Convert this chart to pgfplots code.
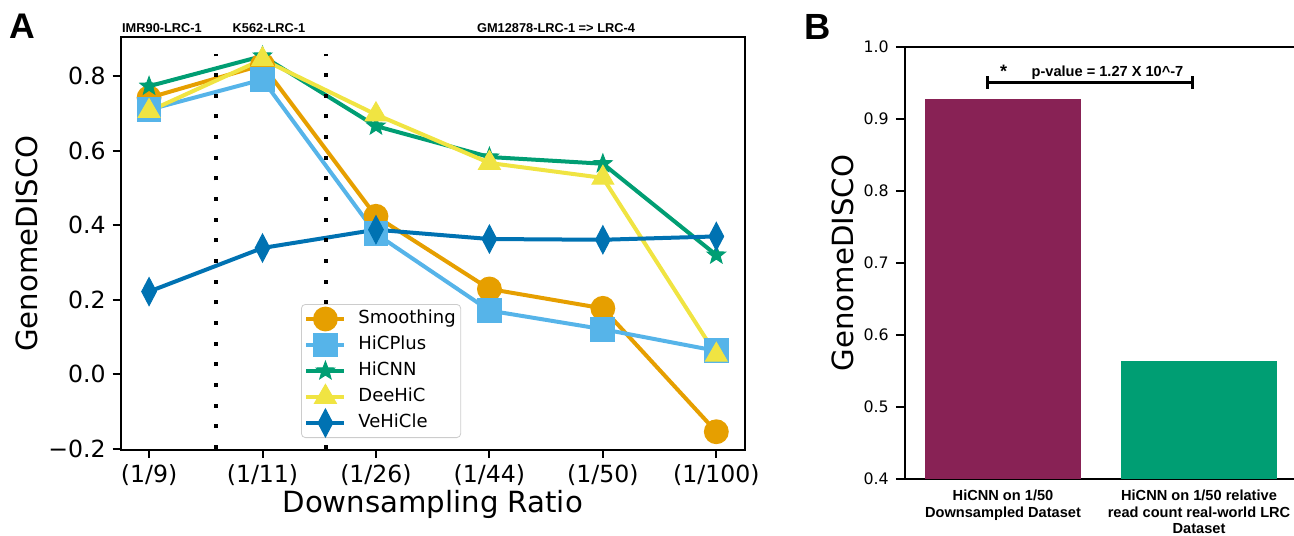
\documentclass[border=0pt]{standalone}
\usepackage{fontspec}
\setmainfont{DejaVu Sans}
\newfontfamily\arial{Liberation Sans}
\usepackage{pgfplots}
\usepackage{pgfplotstable}
\pgfplotsset{compat=1.18}

\definecolor{cOrange}{HTML}{E69F00}
\definecolor{cSky}{HTML}{56B4E9}
\definecolor{cGreen}{HTML}{009E73}
\definecolor{cYellow}{HTML}{F0E442}
\definecolor{cBlue}{HTML}{0072B2}
\definecolor{cWine}{HTML}{882255}

% filled five-pointed star, like matplotlib's '*'
\pgfdeclareplotmark{fstar}{%
  \pgfpathmoveto{\pgfqpointpolar{90}{\pgfplotmarksize}}%
  \pgfpathlineto{\pgfqpointpolar{126}{0.42\pgfplotmarksize}}%
  \pgfpathlineto{\pgfqpointpolar{162}{\pgfplotmarksize}}%
  \pgfpathlineto{\pgfqpointpolar{198}{0.42\pgfplotmarksize}}%
  \pgfpathlineto{\pgfqpointpolar{234}{\pgfplotmarksize}}%
  \pgfpathlineto{\pgfqpointpolar{270}{0.42\pgfplotmarksize}}%
  \pgfpathlineto{\pgfqpointpolar{306}{\pgfplotmarksize}}%
  \pgfpathlineto{\pgfqpointpolar{342}{0.42\pgfplotmarksize}}%
  \pgfpathlineto{\pgfqpointpolar{18}{\pgfplotmarksize}}%
  \pgfpathlineto{\pgfqpointpolar{54}{0.42\pgfplotmarksize}}%
  \pgfpathclose
  \pgfusepathqfillstroke}

% panel A: GenomeDISCO per downsampling ratio
\pgfplotstableread{
x smooth hicplus hicnn deehic vehicle
0  0.742 0.710 0.773 0.706 0.222
1  0.830 0.791 0.854 0.845 0.339
2  0.424 0.377 0.666 0.697 0.388
3  0.229 0.171 0.583 0.567 0.363
4  0.177 0.121 0.565 0.527 0.361
5 -0.154 0.063 0.320 0.052 0.370
}\dataA

\pgfplotsset{
  lgimg/.style={legend image code/.code={%
    \begin{pgfinterruptboundingbox}
    \draw[mark repeat=2,mark phase=2,fill=none,rounded corners=0pt] plot coordinates {(0pt,0pt) (9.5pt,0pt) (19pt,0pt)};
    \end{pgfinterruptboundingbox}
    \path[draw=none,fill=none] (0pt,-4pt) rectangle (19pt,4pt);}},
}

\begin{document}
\begin{tikzpicture}

\begin{axis}[
    name=A,
    at={(60.35pt,42.5pt)}, anchor=south west,
    width=312pt, height=206.5pt, scale only axis,
    xmin=-0.25, xmax=5.25, ymin=-0.203, ymax=0.905,
    xtick={0,...,5},
    xticklabels={(1/9),(1/11),(1/26),(1/44),(1/50),(1/100)},
    ytick={-0.2,0,0.2,0.4,0.6,0.8},
    yticklabels={−0.2,0.0,0.2,0.4,0.6,0.8},
    tick align=outside, tick pos=left,
    major tick length=4pt,
    tick style={line width=1pt, black},
    axis line style={line width=1pt},
    ticklabel style={font=\fontsize{11.8}{13}\selectfont},
    xlabel={Downsampling Ratio}, ylabel={GenomeDISCO},
    label style={font=\fontsize{14.6}{16}\selectfont},
    xlabel style={at={(axis description cs:0.5,-0.133)}, anchor=center},
    ylabel style={at={(axis description cs:-0.150,0.5)}, anchor=center},
    legend cell align=left,
    legend style={at={(axis description cs:0.289,0.3535)}, anchor=north west,
      draw=black!20, rounded corners=2pt, fill=white,
      font=\fontsize{9}{10}\selectfont,
      nodes={inner sep=0pt, text height=6.5pt, text depth=2.5pt},
      row sep=4pt, column sep=7pt, inner xsep=2.5pt, inner ysep=2.8pt},
    every axis plot/.append style={line width=2pt, lgimg},
]
\addplot[cOrange, mark=*, mark size=5.2pt, mark options={fill=cOrange}] table[x=x, y=smooth] {\dataA};
\addlegendentry{Smoothing}
\addplot[cSky, mark=square*, mark size=5.2pt, mark options={fill=cSky}] table[x=x, y=hicplus] {\dataA};
\addlegendentry{HiCPlus}
\addplot[cGreen, mark=fstar, mark size=4.8pt, mark options={fill=cGreen, line width=0.5pt}] table[x=x, y=hicnn] {\dataA};
\addlegendentry{HiCNN}
\addplot[cYellow, mark=triangle*, mark size=6.3pt, mark options={fill=cYellow, line width=0.5pt}] table[x=x, y=deehic] {\dataA};
\addlegendentry{DeeHiC}
\addplot[cBlue, mark=diamond*, mark size=7pt, mark options={fill=cBlue, xscale=0.7, line width=0.5pt}] table[x=x, y=vehicle] {\dataA};
\addlegendentry{VeHiCle}

% dotted separators between the cell lines
\addplot[black, line width=2pt, dash pattern=on 2pt off 8.33pt, forget plot, no marks]
  coordinates {(0.59,-0.2) (0.59,0.86)};
\addplot[black, line width=2pt, dash pattern=on 2pt off 8.33pt, forget plot, no marks]
  coordinates {(1.56,-0.2) (1.56,0.86)};
\end{axis}

% panel A headers
\begin{scope}[every node/.style={font=\arial\bfseries\fontsize{6.4}{7}\selectfont, anchor=base, inner sep=0pt}]
\node at (81pt,251pt) {IMR90-LRC-1};
\node at (134.5pt,251pt) {K562-LRC-1};
\node at (278pt,251pt) {GM12878-LRC-1 => LRC-4};
\end{scope}

\begin{axis}[
    name=B,
    at={(452.5pt,28pt)}, anchor=south west,
    width=196pt, height=216pt, scale only axis,
    xmin=-0.5, xmax=1.5, ymin=0.4, ymax=1.0,
    ytick={0.4,0.5,...,1.0},
    xtick={0,1},
    xticklabels={{HiCNN on 1/50\\Downsampled Dataset},{HiCNN on 1/50 relative\\read count real-world LRC\\Dataset}},
    xticklabel style={align=center, font=\arial\bfseries\fontsize{7.3}{8.2}\selectfont, yshift=2.5pt},
    yticklabel style={font=\fontsize{7.9}{9}\selectfont,
      /pgf/number format/.cd, fixed, fixed zerofill, precision=1, assume math mode=true},
    tick align=outside, tick pos=left,
    major tick length=4.6pt,
    major x tick style={draw=none},
    tick style={line width=1.2pt, black},
    axis line style={line width=1.2pt},
    ylabel={GenomeDISCO},
    ylabel style={font=\fontsize{14.6}{16}\selectfont, at={(axis description cs:-0.159,0.5)}, anchor=center},
    ybar, bar width=0.8,
    clip=false,
]
\addplot[fill=cWine, draw=none, bar shift=0pt] coordinates {(0,0.928)};
\addplot[fill=cGreen, draw=none, bar shift=0pt] coordinates {(1,0.564)};

% significance bracket
\draw[line width=1.5pt] (axis cs:-0.079,0.942) -- (axis cs:-0.079,0.960)
  (axis cs:-0.079,0.951) -- (axis cs:0.967,0.951)
  (axis cs:0.967,0.942) -- (axis cs:0.967,0.960);
\node[font=\arial\bfseries\fontsize{9}{10}\selectfont, anchor=base, inner sep=0pt] at (axis cs:0.003,0.958) {*};
\node[font=\arial\bfseries\fontsize{7.3}{8}\selectfont, anchor=base, inner sep=0pt] at (axis cs:0.533,0.9587) {p-value = 1.27 X 10\^{}-7};
\end{axis}

% panel letters
\node[font=\arial\bfseries\fontsize{17.8}{20}\selectfont, anchor=base, inner sep=0pt] at (11pt,248.35pt) {A};
\node[font=\arial\bfseries\fontsize{18.2}{20}\selectfont, anchor=base, inner sep=0pt] at (408.8pt,247.85pt) {B};

\pgfresetboundingbox
\path[use as bounding box] (0pt,0pt) rectangle (647pt,267.5pt);
\end{tikzpicture}
\end{document}
